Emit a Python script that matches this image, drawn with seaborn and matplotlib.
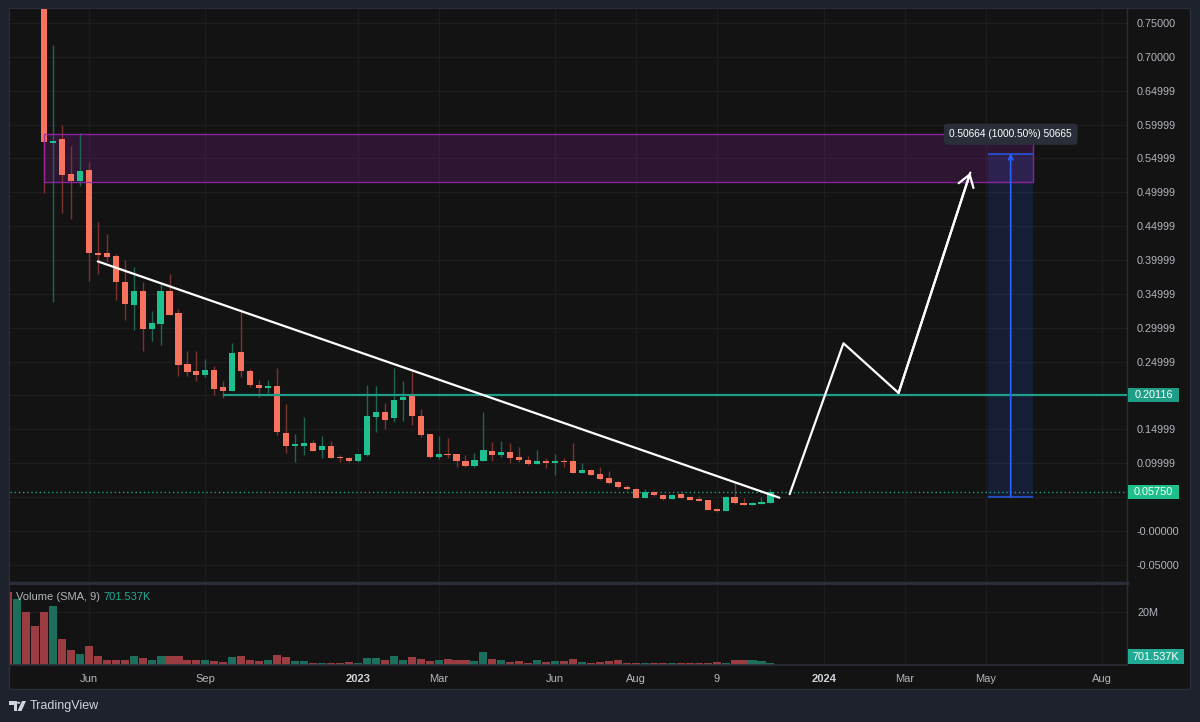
import numpy as np
import pandas as pd
import matplotlib
matplotlib.use('Agg')
import matplotlib.pyplot as plt
import matplotlib.dates as mdates
from matplotlib.patches import Rectangle, Polygon, Circle
import seaborn as sns

# ---------------- data (weekly candles, first bar = week of 2022-04-04) ----------------
weeks = pd.date_range('2022-04-04', periods=86, freq='W-MON')

opens = [1.60, 1.35, 1.50, 1.10, 0.86, 0.5729, 0.5780, 0.5266, 0.5173, 0.5325,
         0.4098, 0.4098, 0.4058, 0.3673, 0.3339, 0.3550, 0.2984, 0.3058, 0.3550, 0.3214,
         0.2466, 0.2367, 0.2297, 0.2377, 0.2120, 0.2071, 0.2638, 0.2367, 0.2155, 0.2105,
         0.2141, 0.1450, 0.1247, 0.1257, 0.1302, 0.1188, 0.1257, 0.1095, 0.1080, 0.1031,
         0.1114, 0.1676, 0.1750, 0.1661, 0.1930, 0.1987, 0.1694, 0.1428, 0.1090, 0.1139,
         0.1132, 0.1036, 0.0957, 0.1031, 0.1183, 0.1114, 0.1169, 0.1090, 0.1046, 0.0991,
         0.1036, 0.1010, 0.1036, 0.1036, 0.0862, 0.0902, 0.0838, 0.0788, 0.0720, 0.0655,
         0.0626, 0.0493, 0.0572, 0.0533, 0.0473, 0.0543, 0.0503, 0.0478, 0.0454, 0.0325,
         0.0296, 0.0503, 0.0414, 0.0389, 0.0399, 0.0419]
highs = [1.75, 1.62, 1.55, 1.15, 0.90, 0.7175, 0.5987, 0.5685, 0.5883, 0.5448,
         0.4556, 0.4389, 0.4083, 0.3994, 0.3895, 0.3673, 0.3254, 0.3649, 0.3797, 0.3280,
         0.2663, 0.2663, 0.2540, 0.2441, 0.2219, 0.2771, 0.3280, 0.2396, 0.2229, 0.2229,
         0.2407, 0.1874, 0.1430, 0.1676, 0.1342, 0.1401, 0.1331, 0.1120, 0.1095, 0.1143,
         0.2160, 0.2141, 0.1893, 0.2401, 0.2219, 0.2342, 0.1800, 0.1428, 0.1405, 0.1368,
         0.1139, 0.1124, 0.1158, 0.1760, 0.1317, 0.1327, 0.1302, 0.1243, 0.1109, 0.1194,
         0.1084, 0.1143, 0.1070, 0.1291, 0.0996, 0.0917, 0.0942, 0.0883, 0.0740, 0.0680,
         0.0636, 0.0621, 0.0592, 0.0540, 0.0547, 0.0555, 0.0510, 0.0518, 0.0459, 0.0333,
         0.0510, 0.0714, 0.0484, 0.0433, 0.0503, 0.0617]
lows = [1.25, 1.20, 1.00, 0.80, 0.4985, 0.3377, 0.4700, 0.4605, 0.5093, 0.3688,
        0.3787, 0.3969, 0.3413, 0.3117, 0.2973, 0.2663, 0.2811, 0.2747, 0.3191, 0.2293,
        0.2283, 0.2219, 0.2268, 0.2007, 0.1963, 0.2061, 0.2278, 0.2130, 0.1972, 0.2041,
        0.1416, 0.1158, 0.1025, 0.1124, 0.1173, 0.1070, 0.1070, 0.1021, 0.1013, 0.1021,
        0.1109, 0.1454, 0.1504, 0.1612, 0.1627, 0.1568, 0.1383, 0.1072, 0.1058, 0.1075,
        0.0947, 0.0951, 0.0947, 0.1031, 0.1036, 0.1090, 0.1001, 0.1025, 0.0972, 0.0981,
        0.0922, 0.0828, 0.0951, 0.0862, 0.0862, 0.0824, 0.0759, 0.0700, 0.0636, 0.0607,
        0.0484, 0.0484, 0.0518, 0.0459, 0.0466, 0.0488, 0.0451, 0.0436, 0.0311, 0.0277,
        0.0288, 0.0392, 0.0380, 0.0385, 0.0392, 0.0414]
closes = [1.35, 1.50, 1.10, 0.86, 0.5744, 0.5765, 0.5256, 0.5173, 0.5315, 0.4102,
          0.4078, 0.4038, 0.3673, 0.3354, 0.3550, 0.2984, 0.3072, 0.3550, 0.3195, 0.2451,
          0.2342, 0.2297, 0.2377, 0.2101, 0.2071, 0.2629, 0.2357, 0.2155, 0.2105, 0.2141,
          0.1454, 0.1247, 0.1277, 0.1302, 0.1183, 0.1257, 0.1080, 0.1070, 0.1031, 0.1135,
          0.1691, 0.1750, 0.1638, 0.1938, 0.1982, 0.1691, 0.1420, 0.1090, 0.1139, 0.1120,
          0.1031, 0.0957, 0.1046, 0.1194, 0.1114, 0.1169, 0.1080, 0.1040, 0.0991, 0.1036,
          0.1010, 0.1036, 0.1016, 0.0862, 0.0902, 0.0833, 0.0774, 0.0710, 0.0646, 0.0617,
          0.0493, 0.0577, 0.0528, 0.0469, 0.0537, 0.0493, 0.0463, 0.0444, 0.0315, 0.0296,
          0.0499, 0.0410, 0.0389, 0.0414, 0.0429, 0.0575]
volume_m = [27.6, 24.9, 20.0, 14.7, 20.0, 22.3, 9.8, 5.7, 4.2, 7.2,
            3.5, 1.8, 1.8, 1.8, 3.5, 2.5, 1.7, 3.5, 3.3, 3.3,
            1.9, 1.7, 1.9, 1.5, 1.1, 2.9, 3.5, 1.9, 1.5, 1.9,
            3.8, 3.0, 1.5, 1.5, 0.9, 0.9, 0.9, 0.6, 1.0, 0.9,
            2.7, 2.7, 1.8, 3.5, 1.9, 2.9, 2.2, 1.4, 1.9, 2.2,
            1.8, 1.8, 1.4, 5.0, 2.2, 1.7, 1.1, 1.4, 0.9, 1.7,
            1.1, 1.4, 1.4, 2.2, 1.1, 0.9, 1.1, 1.4, 1.8, 0.6,
            0.9, 0.9, 0.6, 0.6, 0.6, 0.6, 0.6, 0.6, 0.6, 1.1,
            0.9, 1.9, 1.9, 1.8, 1.5, 0.70]

# 0.19999 and 0.04999 sit under the price tags, so they stay blank
price_ticks = [0.75, 0.70, 0.65, 0.60, 0.55, 0.50, 0.45, 0.40, 0.35, 0.30, 0.25,
               0.20, 0.15, 0.10, 0.05, 0.00, -0.05]
price_labels = ['0.75000', '0.70000', '0.64999', '0.59999', '0.54999', '0.49999',
                '0.44999', '0.39999', '0.34999', '0.29999', '0.24999', '',
                '0.14999', '0.09999', '', '-0.00000', '-0.05000']
date_ticks = ['2022-06-06', '2022-09-05', '2023-01-02', '2023-03-06', '2023-06-05',
              '2023-08-07', '2023-10-09', '2024-01-01', '2024-03-04', '2024-05-06',
              '2024-08-05']
date_labels = ['Jun', 'Sep', '2023', 'Mar', 'Jun', 'Aug', '9', '2024', 'Mar', 'May', 'Aug']

# drawings on the chart
trend_dates = ['2022-06-13', '2023-11-27']
trend_prices = [0.398, 0.049]
path_dates = ['2023-12-05', '2024-01-16', '2024-02-28', '2024-04-24']
path_prices = [0.0543, 0.2771, 0.2037, 0.5291]
level_start = '2022-09-19'
level_price = 0.20116
last_price = 0.0575
zone_dates = ['2022-05-02', '2024-06-12']
zone_prices = [0.5152, 0.5854]
measure_dates = ['2024-05-08', '2024-06-12']
measure_prices = [0.05064, 0.55728]
measure_text = '0.50664 (1000.50%) 50665'
volume_last = '701.537K'

# ---------------- style ----------------
BG = '#131313'
FRAME = '#1e222d'
LINE = '#2a2e39'
GRID = '#1d1d1d'
TXT = '#b2b5be'
UP, DN = '#1ec090', '#f7735e'
WUP, WDN = '#1f6652', '#7a332d'
VUP, VDN = '#1e6e5d', '#9b3b42'
TEAL = '#1e9e87'
BLUE = '#2962ff'
PURPLE = '#9c27b0'

sns.set_theme(style='dark', rc={'axes.facecolor': BG, 'figure.facecolor': FRAME,
                                'grid.color': GRID, 'axes.edgecolor': LINE,
                                'text.color': TXT, 'xtick.color': TXT, 'ytick.color': TXT})
plt.rcParams['font.family'] = ['Liberation Sans', 'DejaVu Sans']

df = pd.DataFrame({'date': weeks, 'open': opens, 'high': highs, 'low': lows,
                   'close': closes, 'volume': volume_m})
up = (df['close'] >= df['open']).values

W, H = 1200, 722
fig = plt.figure(figsize=(12, 7.22), dpi=100)


def fx(px):
    return px / W


def fy(py):
    return 1 - py / H


# chart panel
fig.add_artist(Rectangle((fx(9), fy(689)), fx(1181), 681 / H, transform=fig.transFigure,
                         facecolor=BG, edgecolor=LINE, lw=1, zorder=0))

ax = fig.add_axes([fx(10), fy(583), 1117 / W, 574 / H])
axv = fig.add_axes([fx(10), fy(665), 1117 / W, 80 / H], sharex=ax)

# ---------------- candles ----------------
ax.vlines(df['date'], df['low'], df['high'], colors=np.where(up, WUP, WDN), lw=1, zorder=2)
body_lo = np.minimum(df['open'], df['close'])
body_h = np.maximum((df['close'] - df['open']).abs(), 0.0022)
ax.bar(df['date'], body_h, bottom=body_lo, width=4.8, color=np.where(up, UP, DN),
       lw=0, zorder=3)

# zone and measure box
z0, z1 = mdates.date2num(pd.to_datetime(zone_dates))
ax.add_patch(Rectangle((z0, zone_prices[0]), z1 - z0, zone_prices[1] - zone_prices[0],
                       facecolor=PURPLE, alpha=0.2, lw=0, zorder=1))
ax.add_patch(Rectangle((z0, zone_prices[0]), z1 - z0, zone_prices[1] - zone_prices[0],
                       facecolor='none', edgecolor=PURPLE, alpha=0.85, lw=1, zorder=4))
m0, m1 = mdates.date2num(pd.to_datetime(measure_dates))
ax.add_patch(Rectangle((m0, measure_prices[0]), m1 - m0, measure_prices[1] - measure_prices[0],
                       facecolor=BLUE, alpha=0.15, lw=0, zorder=1))
ax.hlines(measure_prices, m0, m1, color=BLUE, lw=1.2, alpha=0.8, zorder=4)
mmid = (m0 + m1) / 2
ax.annotate('', xy=(mmid, measure_prices[1]), xytext=(mmid, measure_prices[0]),
            arrowprops=dict(arrowstyle='->', color=BLUE, lw=1.2, mutation_scale=8,
                            shrinkA=0, shrinkB=0), zorder=5)
ax.text(mmid, 0.5858, measure_text, ha='center', va='center', color='white', fontsize=7.3,
        zorder=6, bbox=dict(boxstyle='round,pad=0.55,rounding_size=0.4', fc='#2a2e39', ec='none'))

# levels
xl = (pd.Timestamp('2022-04-05 12:00'), pd.Timestamp('2024-08-24 07:00'))
ax.hlines(level_price, pd.Timestamp(level_start), xl[1], color=TEAL, lw=1.6, zorder=4)
ax.axhline(last_price, color='#1fa37f', lw=1, ls=(0, (1, 2)), zorder=2)

# trend line and projected path
sns.lineplot(x=pd.to_datetime(trend_dates), y=trend_prices, ax=ax, color='white', lw=1.6,
             sort=False, estimator=None, zorder=6)
sns.lineplot(x=pd.to_datetime(path_dates), y=path_prices, ax=ax, color='white', lw=1.6,
             sort=False, estimator=None, zorder=6)
pd_num = mdates.date2num(pd.to_datetime(path_dates))
ax.annotate('', xy=(pd_num[-1], path_prices[-1]), xytext=(pd_num[-2], path_prices[-2]),
            arrowprops=dict(arrowstyle='->,head_length=0.6,head_width=0.4', mutation_scale=14,
                            color='white', lw=1.6, shrinkA=0, shrinkB=0), zorder=6)

# ---------------- volume ----------------
axv.bar(df['date'], df['volume'], width=6.3, color=np.where(up, VUP, VDN), lw=0, zorder=2)

# ---------------- axes styling ----------------
ax.set_xlim(*xl)
ax.set_ylim(-0.0769, 0.7707)
axv.set_ylim(0, 30.2)
for a in (ax, axv):
    a.set_xlabel('')
    a.set_ylabel('')
    a.yaxis.tick_right()
    a.grid(True, color=GRID, lw=1)
    a.set_axisbelow(True)
    for s in ('top', 'left'):
        a.spines[s].set_visible(False)
    a.spines['right'].set_color(LINE)
    a.spines['right'].set_linewidth(1)
ax.spines['bottom'].set_color(LINE)
ax.spines['bottom'].set_linewidth(2.5)
axv.spines['bottom'].set_color(LINE)
axv.spines['bottom'].set_linewidth(1.2)

ax.set_yticks(price_ticks)
ax.set_yticklabels(price_labels)
ax.tick_params(axis='y', length=0, pad=7.2, labelsize=7.8, labelcolor=TXT)
ax.tick_params(axis='x', length=0, labelbottom=False)

axv.set_yticks([20])
axv.set_yticklabels(['20M'])
axv.tick_params(axis='y', length=0, pad=7.2, labelsize=7.8, labelcolor=TXT)
axv.set_xticks(pd.to_datetime(date_ticks))
axv.set_xticklabels(date_labels)
axv.tick_params(axis='x', length=0, pad=6.6, labelsize=8, labelcolor=TXT)
for t in axv.get_xticklabels():
    if t.get_text() in ('2023', '2024'):
        t.set_fontweight('bold')
        t.set_color('#d1d4dc')

# price tags on the scale
tag_h = 0.0207
for val, txt, col in [(level_price, '0.20116', '#1e9e87'), (last_price, '0.05750', '#1fbf8d')]:
    ax.add_patch(Rectangle((1.0009, val - tag_h / 2), 0.0457, tag_h,
                           transform=ax.get_yaxis_transform(), facecolor=col, lw=0,
                           clip_on=False, zorder=10))
    ax.text(1.0009 + 0.0457 / 2, val, txt, transform=ax.get_yaxis_transform(),
            ha='center', va='center', color='white', fontsize=7.8, clip_on=False, zorder=11)
axv.add_patch(Rectangle((1.0009, 0.0125), 0.0501, 0.1875, transform=axv.transAxes,
                        facecolor='#22ab94', lw=0, clip_on=False, zorder=10))
axv.text(1.0009 + 0.0501 / 2, 0.106, volume_last, transform=axv.transAxes, ha='center',
         va='center', color='white', fontsize=7.8, clip_on=False, zorder=11)

# volume legend
axv.text(0.0054, 0.85, 'Volume (SMA, 9)', transform=axv.transAxes, ha='left', va='center',
         color=TXT, fontsize=8, zorder=11)
axv.text(0.0833, 0.85, volume_last, transform=axv.transAxes, ha='left', va='center',
         color='#22ab94', fontsize=8, zorder=11)

# TradingView logo
logo = '#d1d4dc'
fig.add_artist(Polygon([(fx(9), fy(701)), (fx(17), fy(701)), (fx(17), fy(711)),
                        (fx(13.5), fy(711)), (fx(13.5), fy(704.5)), (fx(9), fy(704.5))],
                       closed=True, transform=fig.transFigure, color=logo, lw=0))
fig.add_artist(Circle((fx(18.6), fy(702.8)), 1.7 / W, transform=fig.transFigure,
                      color=logo, lw=0))
fig.add_artist(Polygon([(fx(22), fy(701)), (fx(26), fy(701)), (fx(21.5), fy(711)),
                        (fx(17.5), fy(711))],
                       closed=True, transform=fig.transFigure, color=logo, lw=0))
fig.text(fx(30), fy(706), 'TradingView', ha='left', va='center', color=logo, fontsize=9)

fig.savefig('out.png', dpi=100, facecolor=FRAME)
